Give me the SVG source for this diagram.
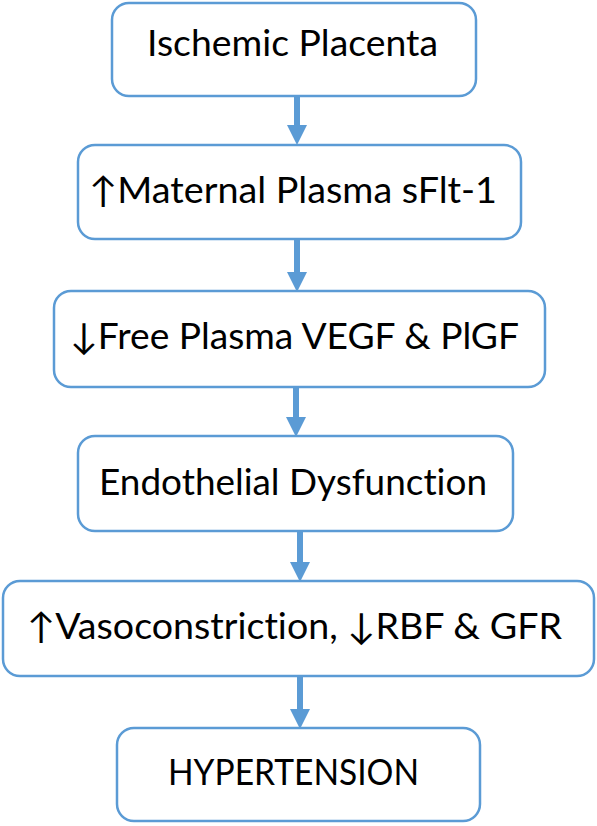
<svg xmlns="http://www.w3.org/2000/svg" width="597" height="826" viewBox="0 0 597 826">
<style>
.box{fill:#ffffff;stroke:#5b9bd5;stroke-width:2.5}
.lbl{font-family:Lato,"DejaVu Sans",sans-serif;font-size:36px;fill:#000000;font-variant-ligatures:none;font-feature-settings:"liga" 0,"dlig" 0}
.conn{stroke:#5b9bd5;stroke-width:6;fill:none}
</style>
<defs>
<marker id="ah" viewBox="0 0 20 20" markerWidth="20" markerHeight="20" refX="0" refY="10" orient="auto" markerUnits="userSpaceOnUse">
<path d="M0,0 L20,10 L0,20 z" fill="#5b9bd5"/>
</marker>
</defs>
<rect width="597" height="826" fill="#ffffff"/>
<g id="connectors">
<line class="conn" x1="297" y1="97" x2="297" y2="125" marker-end="url(#ah)"/>
<line class="conn" x1="297" y1="240" x2="297" y2="272" marker-end="url(#ah)"/>
<line class="conn" x1="296" y1="388" x2="296" y2="417" marker-end="url(#ah)"/>
<line class="conn" x1="300" y1="532" x2="300" y2="562" marker-end="url(#ah)"/>
<line class="conn" x1="300" y1="677" x2="300" y2="709" marker-end="url(#ah)"/>
</g>
<g id="n1">
<rect class="box" x="112" y="3" width="364" height="93" rx="17"/>
<text class="lbl" x="147" y="56" textLength="291" lengthAdjust="spacingAndGlyphs">Ischemic Placenta</text>
</g>
<g id="n2">
<rect class="box" x="78" y="145" width="443" height="94" rx="17"/>
<text class="lbl" x="89" y="203" textLength="408" lengthAdjust="spacingAndGlyphs">↑Maternal Plasma sFlt-1</text>
</g>
<g id="n3">
<rect class="box" x="54" y="291" width="491" height="96" rx="17"/>
<text class="lbl" x="70" y="349" textLength="449" lengthAdjust="spacingAndGlyphs">↓Free Plasma VEGF &amp; PlGF</text>
</g>
<g id="n4">
<rect class="box" x="78" y="436" width="435" height="95" rx="17"/>
<text class="lbl" x="99" y="495" textLength="388" lengthAdjust="spacingAndGlyphs">Endothelial Dysfunction</text>
</g>
<g id="n5">
<rect class="box" x="3" y="581" width="591" height="95" rx="17"/>
<text class="lbl" x="27" y="639" font-size="34" textLength="535" lengthAdjust="spacingAndGlyphs">↑Vasoconstriction, ↓RBF &amp; GFR</text>
</g>
<g id="n6">
<rect class="box" x="117" y="728" width="363" height="93" rx="17"/>
<text class="lbl" x="168" y="785" textLength="251" lengthAdjust="spacingAndGlyphs">HYPERTENSION</text>
</g>
</svg>
